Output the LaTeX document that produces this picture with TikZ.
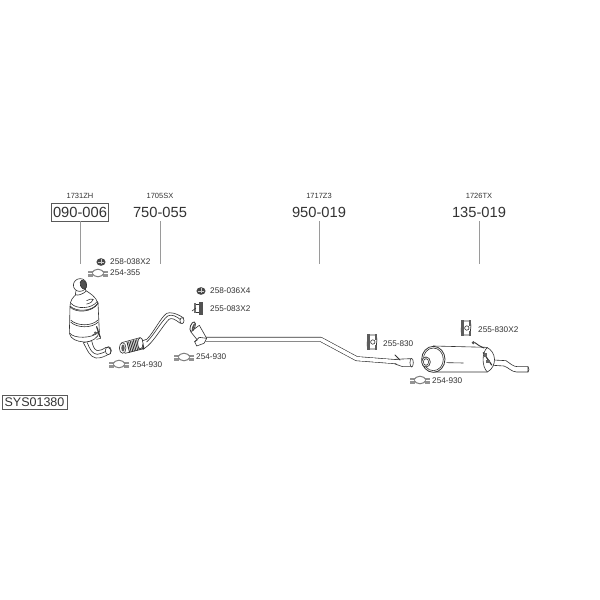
\documentclass[tikz,border=0pt]{standalone}
\usepackage{fontspec}
\setmainfont{Liberation Sans}
\definecolor{ink}{HTML}{333333}
\definecolor{lead}{HTML}{9A9A9A}
\tikzset{
  code/.style={font=\fontsize{14.7}{15}\selectfont,text=ink,inner sep=0pt,anchor=center},
  ref/.style={font=\fontsize{7.5}{8}\selectfont,text=ink,inner sep=0pt,anchor=center},
  part/.style={font=\fontsize{8.2}{9}\selectfont,text=ink,inner sep=0pt,anchor=west},
  boxed/.style={draw=black!65,line width=.7pt,fill=white},
  leader/.style={draw=lead,line width=1pt},
  ln/.style={draw=ink,line width=.6pt,line join=round,line cap=round},
  outl/.style={ln,fill=white},
  tube/.style={draw=ink,double=white,line join=round},
  clampA/.pic={
    \fill[gray!85] (-10,-2.5) rectangle (-5,3.5);\fill[gray!85] (5,-2.5) rectangle (10,3.5);
    \draw[draw=gray,line width=1pt,fill=white] (-6.5,0) .. controls (-3,-5) and (3,-5) .. (6.5,0) .. controls (3,5) and (-3,5) .. (-6.5,0) -- cycle;
    \draw[draw=white,line width=.5pt] (-10,0) -- (-6,0) (10,0) -- (6,0);
  },
  nutA/.pic={
    \fill[ink!90] (0,0) ellipse (4.6 and 3.8);
    \draw[gray!40,line width=.5pt] (-2.6,.6) -- (2.6,.6) (0,-2.6) -- (0,1.8);
  },
  hanger/.pic={
    \draw[ln,line width=.7pt,fill=white,rounded corners=1pt] (-4,-7) -- (4,-7) -- (5,-3) -- (4,7) -- (-4,7) -- (-5,3) -- cycle;
    \fill[ink!80] (-5,-8) rectangle (-2.5,8);
    \fill[ink!80] (2.5,-8) rectangle (4.5,-2);
    \fill[ink!80] (2.5,3) rectangle (4.5,8);
    \draw[ink,fill=white,line width=.6pt] (.8,0) circle (2.2);
  }
}
\begin{document}
\begin{tikzpicture}[x=1pt,y=-1pt]
\useasboundingbox (0,0) rectangle (600,600);
\fill[white] (0,0) rectangle (600,600);

% leaders and labels
\node[ref] (r1) at (80,196) {1731ZH};
\node[code,boxed,minimum width=57pt,minimum height=18pt] (c1) at (80,212) {090-006};
\coordinate (e1) at (80,264);
\draw[leader] (c1) -- (e1);
\node[ref] (r2) at (160,196) {1705SX};
\node[code,minimum width=57pt,minimum height=18pt] (c2) at (160,212) {750-055};
\coordinate (e2) at (160,264);
\draw[leader] (c2) -- (e2);
\node[ref] (r3) at (319,196) {1717Z3};
\node[code,minimum width=57pt,minimum height=18pt] (c3) at (319,212) {950-019};
\coordinate (e3) at (319,264);
\draw[leader] (c3) -- (e3);
\node[ref] (r4) at (479,196) {1726TX};
\node[code,minimum width=57pt,minimum height=18pt] (c4) at (479,212) {135-019};
\coordinate (e4) at (479,264);
\draw[leader] (c4) -- (e4);
\node[code,boxed,font=\fontsize{12.5}{14}\selectfont,minimum width=65pt,minimum height=14pt] (sys) at (34.5,402) {SYS01380};

% part labels
\node[part] (p1) at (110,261.5) {258-038X2};
\node[part] (p2) at (110,273) {254-355};
\node[part] (p3) at (132,365) {254-930};
\node[part] (p4) at (196,357) {254-930};
\node[part] (p5) at (210,291) {258-036X4};
\node[part] (p6) at (210,309) {255-083X2};
\node[part] (p7) at (383,343.5) {255-830};
\node[part] (p8) at (478,330) {255-830X2};
\node[part] (p9) at (432,381) {254-930};

% small hardware
\pic at (101,262) {nutA};
\pic at (201,291) {nutA};
\pic at (98,273) {clampA};
\pic at (119,364) {clampA};
\pic at (184,357) {clampA};
\pic at (420,380) {clampA};
\pic at (372,342) {hanger};
\pic at (466,328) {hanger};
% bracket 255-083
\draw[ln,line width=.7pt,fill=white] (195,304) -- (201,304) -- (201,312) -- (195,312) -- cycle;
\fill[ink!85] (199,302) rectangle (203,315);
\fill[ink!70] (194,303) rectangle (196,313);
\draw[ln] (192,311) -- (196,308);

% catalyst (zoom units)
\begin{scope}[shift={(50,270)},x=.3333pt,y=-.3333pt]
  % outlet
  \draw[outl] (100,218) .. controls (112,240) and (120,262) .. (138,264) .. controls (155,265) and (165,258) .. (178,252)
     -- (168,232) .. controls (158,238) and (150,243) .. (142,242) .. controls (132,240) and (128,225) .. (125,212) -- cycle;
  \draw[ln] (112,218) .. controls (120,240) and (128,252) .. (142,253) .. controls (150,252) and (160,248) .. (170,243);
  \draw[outl] (175,242) ellipse (9 and 12);
  \draw[ln] (170,232) .. controls (180,232) and (186,240) .. (180,252);
  % body
  \draw[outl] (60,112) -- (58,190) .. controls (62,208) and (80,214) .. (102,216) .. controls (125,216) and (145,205) .. (148,185) -- (144,98) -- cycle;
  \draw[ln] (62,150) .. controls (80,168) and (125,170) .. (144,150);
  \draw[ln] (62,156) .. controls (80,174) and (125,176) .. (145,156);
  \draw[ln] (60,190) .. controls (70,205) and (125,208) .. (148,185);
  % cone
  \draw[outl] (60,110) .. controls (60,92) and (68,82) .. (80,72) -- (108,62) .. controls (120,70) and (138,80) .. (144,100)
    .. controls (128,128) and (75,130) .. (60,110) -- cycle;
  \draw[ln] (63,100) .. controls (78,118) and (125,118) .. (142,94);
  \draw[ln] (60,108) .. controls (78,126) and (125,126) .. (144,100);
  \draw[ln] (110,92) .. controls (118,88) and (125,85) .. (130,88) .. controls (128,96) and (120,100) .. (110,102);
  % neck + flange
  \draw[outl] (78,62) -- (76,74) .. controls (85,78) and (98,72) .. (108,64) -- (104,50) -- cycle;
  \draw[outl,rotate around={20:(90,45)}] (90,45) ellipse (20 and 19);
  \draw[ln,fill=ink!85,rotate around={20:(100,44)}] (100,44) ellipse (9 and 14);
  % bracket
  \draw[ln] (128,195) -- (145,185) -- (152,205) -- (140,208);
  \draw[ln,line width=1.2pt] (140,170) -- (150,200);
  \fill[ink!80] (136,188) circle (4);
\end{scope}

% pipe 750-055 (zoom units)
\begin{scope}[shift={(105,280)},x=.3333pt,y=-.3333pt]
  \draw[outl] (110,183) -- (125,178) .. controls (145,160) and (165,115) .. (185,100)
    .. controls (195,96) and (212,98) .. (236,114) -- (226,130) .. controls (210,118) and (200,112) .. (192,118)
    .. controls (175,135) and (150,178) .. (130,196) -- (115,208) -- cycle;
  \draw[ln] (125,186) .. controls (145,168) and (170,122) .. (188,108) .. controls (200,102) and (215,108) .. (230,122);
  \draw[outl] (231,122) ellipse (6 and 9);
  % flex section
  \draw[outl] (50,188) -- (105,173) -- (116,206) -- (60,220) -- cycle;
  \foreach \t in {0,1,...,9}{
    \draw[draw=ink,line width=.9pt] ({66+4.8*\t},{186-1.3*\t}) -- ({74+4.8*\t},{218-1.3*\t});
  }
  \draw[outl] (53,204) ellipse (10 and 16);
  \fill[ink!80] (54,204) ellipse (5 and 11);
  \draw[outl] (106,190) ellipse (8 and 17);
\end{scope}

% pipe 950-019 (zoom units)
\begin{scope}[shift={(180,300)},x=.3333pt,y=-.3333pt]
  \draw[tube,line width=.6pt,double distance=3.6pt] (76,118) -- (422,118) -- (530,176) -- (660,186);
  \fill[white] (650,179) -- (692,176) -- (692,200) -- (668,200) -- (650,192) -- cycle;
  \draw[ln] (645,178) -- (692,176) (645,192) -- (668,200) -- (692,200);
  \draw[outl] (695,188) ellipse (5 and 13);
  \draw[ln,line width=1pt] (645,165) -- (660,180);
  \draw[outl] (32,95) -- (58,76) -- (80,115) -- (72,130) -- (50,138) -- (44,125) -- (52,120) -- cycle;
  \draw[ln] (44,125) -- (58,112) -- (80,115);
  \draw[ln,line width=.8pt,fill=white,rotate around={-20:(38,80)}] (38,80) ellipse (7 and 15);
  \fill[ink!85,rotate around={-20:(38,80)}] (40,80) ellipse (3 and 11);
\end{scope}

% muffler (zoom units)
\begin{scope}[shift={(400,310)},x=.3333pt,y=-.3333pt]
  \draw[outl] (280,150) -- (318,152) .. controls (330,160) and (340,170) .. (352,170) -- (384,170) -- (384,186) -- (350,186) .. controls (335,186) and (325,172) .. (312,168) -- (280,166) -- cycle;
  \draw[ln] (384,170) .. controls (388,175) and (388,182) .. (384,186);
  \draw[outl] (100,108) -- (260,112) .. controls (290,125) and (292,170) .. (262,186) -- (100,186) -- cycle;
  \draw[ln] (262,112) .. controls (245,128) and (245,170) .. (262,186);
  \draw[ln,line width=1.2pt] (250,128) -- (275,165);
  \fill[ink!75] (252,130) rectangle (262,140);
  \fill[ink!75] (258,150) rectangle (270,160);
  \draw[ln] (140,158) -- (190,159);
  \draw[outl,line width=.8pt] (100,148) ellipse (35 and 39);
  \draw[ln] (100,148) ellipse (30 and 34);
  \draw[outl,line width=.7pt] (78,156) ellipse (13 and 15);
  \draw[ln] (78,156) ellipse (8 and 10);
  \draw[ln,line width=.9pt] (225,98) .. controls (232,105) and (240,108) .. (252,114);
  \fill[ink!85] (220,98) circle (5);
\end{scope}
\end{tikzpicture}
\end{document}
